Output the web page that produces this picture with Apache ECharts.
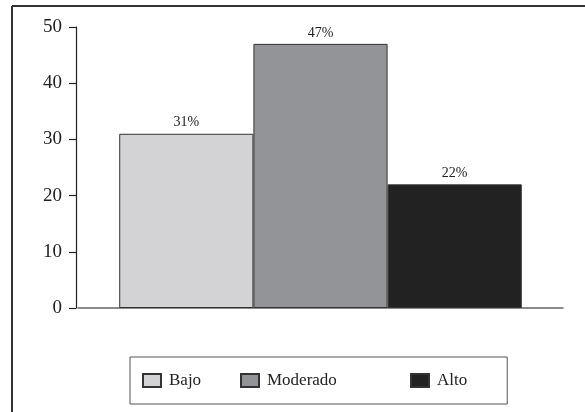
<!DOCTYPE html>
<html>
<head>
<meta charset="utf-8">
<script src="https://cdn.jsdelivr.net/npm/echarts@6/dist/echarts.min.js"></script>
<style>
  html, body { margin: 0; padding: 0; background: #fff; }
  #chart { width: 585px; height: 412px; }
</style>
</head>
<body>
<div id="chart"></div>
<script>
// Nivel de riesgo: porcentaje por grupo
const levels = ['Bajo', 'Moderado', 'Alto'];
const percents = [31, 47, 22];
const fills = ['#d3d3d5', '#939497', '#232223'];
const yTicks = { min: 0, max: 50, interval: 10 };

const serif = '"Liberation Serif", "DejaVu Serif", serif';

const series = levels.map((name, i) => ({
  name: name,
  type: 'bar',
  data: [percents[i]],
  barGap: '0%',
  barCategoryGap: '17%',
  itemStyle: { color: fills[i], borderColor: '#333', borderWidth: 1 },
  label: {
    show: true,
    position: 'top',
    distance: 4,
    formatter: '{c}%',
    fontFamily: serif,
    fontSize: 14,
    color: '#222'
  }
}));

const legendWidths = [71, 143, 30];

const chart = echarts.init(document.getElementById('chart'), null, { renderer: 'canvas' });
chart.setOption({
  animation: false,
  backgroundColor: '#fff',
  grid: { left: 78, right: 22, top: 27, bottom: 104, containLabel: false },
  xAxis: {
    type: 'category',
    data: [''],
    axisLine: { show: true, lineStyle: { color: '#666', width: 1.5 } },
    axisTick: { show: false },
    axisLabel: { show: false }
  },
  yAxis: {
    type: 'value',
    min: yTicks.min,
    max: yTicks.max,
    interval: yTicks.interval,
    offset: 2,
    axisLine: { show: true, lineStyle: { color: '#222', width: 1.2 } },
    axisTick: { show: true, inside: false, length: 7, lineStyle: { color: '#222', width: 1.2 } },
    axisLabel: { fontFamily: serif, fontSize: 19, color: '#222', margin: 14 },
    splitLine: { show: false }
  },
  legend: {
    left: 130,
    top: 357,
    orient: 'horizontal',
    icon: 'rect',
    itemWidth: 18,
    itemHeight: 13,
    itemGap: 0,
    padding: [15, 40, 15, 12],
    borderColor: '#555',
    borderWidth: 1,
    borderRadius: 0,
    data: levels.map((name, i) => ({
      name: name,
      textStyle: { width: legendWidths[i], padding: [0, 0, 0, 3] }
    })),
    textStyle: { fontFamily: serif, fontSize: 17, color: '#222', lineHeight: 17 }
  },
  graphic: [
    { type: 'line', shape: { x1: 12, y1: 6, x2: 585, y2: 6 }, style: { stroke: '#333', lineWidth: 2 } },
    { type: 'line', shape: { x1: 12, y1: 6, x2: 12, y2: 412 }, style: { stroke: '#333', lineWidth: 2 } }
  ],
  series: series
});
</script>
</body>
</html>
